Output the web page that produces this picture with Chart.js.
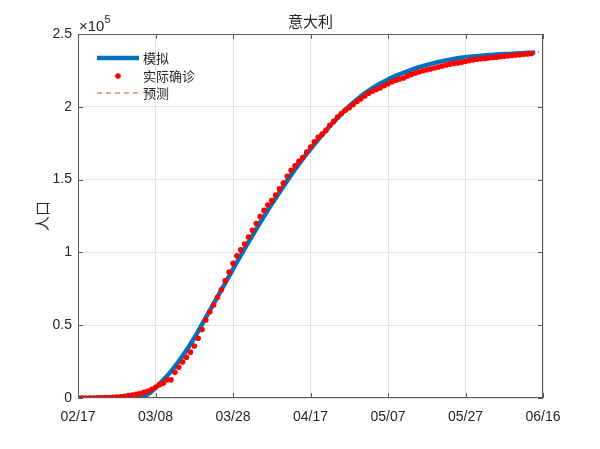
<!DOCTYPE html>
<html lang="zh">
<head>
<meta charset="UTF-8">
<title>意大利</title>
<script src="https://cdn.jsdelivr.net/npm/chart.js"></script>
<style>
    body { margin: 0; background: #ffffff; }
    canvas { display: block; }
</style>
</head>
<body>
<canvas id="chart" width="600" height="449"></canvas>
<script>
// x = giorni dal 02/17
const tickLabels = ['02/17', '03/08', '03/28', '04/17', '05/07', '05/27', '06/16'];

// casi confermati, uno al giorno da 02/17 a 06/13
const actualCases = [
    3, 3, 3, 3, 20, 62, 155, 229, 322, 453,
    655, 888, 1128, 1694, 2036, 2502, 3089, 3858, 4636, 5883,
    7375, 9172, 10149, 12462, 12462, 17660, 21157, 24747, 27980, 31506,
    35713, 41035, 47021, 53578, 59138, 63927, 69176, 74386, 80589, 86498,
    92472, 97689, 101739, 105792, 110574, 115242, 119827, 124632, 128948, 132547,
    135586, 139422, 143626, 147577, 152271, 156363, 159516, 162488, 165155, 168941,
    172434, 175925, 178972, 181228, 183957, 187327, 189973, 192994, 195351, 197675,
    199414, 201505, 203591, 205463, 207428, 209328, 210717, 211938, 213013, 214457,
    215858, 217185, 218268, 219070, 219814, 221216, 222104, 223096, 223885, 224760,
    225435, 225886, 226699, 227364, 228006, 228658, 229327, 229858, 230158, 230555,
    231139, 231732, 232248, 232664, 233019, 233197, 233515, 233836, 234013, 234531,
    234801, 234998, 235278, 235561, 235763, 236142, 236305, 236651
];

// curva simulata (ogni 2 giorni)
const modelDays = [
    0, 2, 4, 6, 8, 10, 12, 14, 16, 18, 20, 22, 24, 26, 28, 30, 32, 34, 36, 38,
    40, 42, 44, 46, 48, 50, 52, 54, 56, 58, 60, 62, 64, 66, 68, 70, 72, 74, 76, 78,
    80, 82, 84, 86, 88, 90, 92, 94, 96, 98, 100, 102, 104, 106, 108, 110, 112, 114, 116, 118
];
const modelValues = [
    0, 0, 0, 0, 0, 0, 0, 100, 600, 2500, 7000, 12300, 18300, 25200, 32800, 41200, 50500, 60000, 69500, 79000,
    88500, 98000, 107000, 116000, 124800, 133200, 141300, 149300, 157000, 164300, 171000, 177500, 183800, 189700, 195200, 200400, 205000, 209200, 212800, 216000,
    218800, 221200, 223400, 225400, 227200, 228800, 230200, 231400, 232400, 233300, 234000, 234600, 235100, 235500, 235900, 236200, 236500, 236800, 237050, 237300
];

// previsione
const predDays = [114, 116, 118, 119];
const predValues = [236800, 237100, 237400, 237550];

const seriesNames = ['模拟', '实际确诊', '预测'];

const BLUE = '#0072BD';
const RED = '#FF0000';
const ORANGE = '#D95319';
const TEXT = '#262626';
const CJK = '"Noto Sans CJK SC", "Noto Sans", sans-serif';
const LATIN = '"Liberation Sans", Arial, sans-serif';

function toPoints(xs, ys) {
    return xs.map((x, i) => ({ x: x, y: ys[i] }));
}

// cornice, tacche interne, titolo, etichette e legenda in stile MATLAB
const matlabDecor = {
    id: 'matlabDecor',
    afterDatasetsDraw(chart) {
        const ctx = chart.ctx;
        const a = chart.chartArea;
        const xs = chart.scales.x;
        const ys = chart.scales.y;

        ctx.save();
        ctx.strokeStyle = '#5a5a5a';
        ctx.lineWidth = 1;
        ctx.strokeRect(a.left + 0.5, a.top + 0.5, a.right - a.left - 1, a.bottom - a.top - 1);

        ctx.beginPath();
        xs.ticks.forEach(t => {
            const px = Math.round(xs.getPixelForValue(t.value)) + 0.5;
            ctx.moveTo(px, a.bottom); ctx.lineTo(px, a.bottom - 5);
            ctx.moveTo(px, a.top); ctx.lineTo(px, a.top + 5);
        });
        ys.ticks.forEach(t => {
            const py = Math.round(ys.getPixelForValue(t.value)) + 0.5;
            ctx.moveTo(a.left, py); ctx.lineTo(a.left + 5, py);
            ctx.moveTo(a.right, py); ctx.lineTo(a.right - 5, py);
        });
        ctx.stroke();

        // titolo
        ctx.fillStyle = TEXT;
        ctx.textAlign = 'center';
        ctx.textBaseline = 'middle';
        ctx.font = '15px ' + CJK;
        ctx.fillText('意大利', (a.left + a.right) / 2, 21);

        // esponente asse y
        ctx.textAlign = 'left';
        ctx.font = '15px ' + LATIN;
        ctx.fillText('\u00d710', a.left + 1, 27);
        const w = ctx.measureText('\u00d710').width;
        ctx.font = '11px ' + LATIN;
        ctx.fillText('5', a.left + 1 + w, 20);

        // etichetta asse y
        ctx.save();
        ctx.translate(42, 216);
        ctx.rotate(-Math.PI / 2);
        ctx.textAlign = 'center';
        ctx.font = '15px ' + CJK;
        ctx.fillText('人口', 0, 0);
        ctx.restore();

        // legenda
        ctx.lineCap = 'butt';
        ctx.strokeStyle = BLUE;
        ctx.lineWidth = 4.5;
        ctx.beginPath(); ctx.moveTo(97, 58); ctx.lineTo(139, 58); ctx.stroke();

        ctx.fillStyle = RED;
        ctx.beginPath(); ctx.arc(118, 76, 2.8, 0, Math.PI * 2); ctx.fill();

        ctx.strokeStyle = ORANGE;
        ctx.lineWidth = 1.2;
        ctx.setLineDash([5, 4]);
        ctx.beginPath(); ctx.moveTo(97, 93); ctx.lineTo(139, 93); ctx.stroke();
        ctx.setLineDash([]);

        ctx.fillStyle = TEXT;
        ctx.textAlign = 'left';
        ctx.textBaseline = 'middle';
        ctx.font = '13px ' + CJK;
        ctx.fillText(seriesNames[0], 143, 58);
        ctx.fillText(seriesNames[1], 143, 76);
        ctx.fillText(seriesNames[2], 143, 93);
        ctx.restore();
    }
};

const ctx = document.getElementById('chart').getContext('2d');
new Chart(ctx, {
    type: 'line',
    data: {
        datasets: [
            {
                label: seriesNames[0],
                data: toPoints(modelDays, modelValues),
                borderColor: BLUE,
                borderWidth: 4.5,
                pointRadius: 0,
                cubicInterpolationMode: 'monotone',
                order: 3
            },
            {
                label: seriesNames[1],
                data: actualCases.map((v, i) => ({ x: i, y: v })),
                showLine: false,
                pointRadius: 2.8,
                pointBorderWidth: 0,
                pointBackgroundColor: RED,
                borderColor: RED,
                order: 1
            },
            {
                label: seriesNames[2],
                data: toPoints(predDays, predValues),
                borderColor: ORANGE,
                borderWidth: 1.2,
                borderDash: [5, 4],
                pointRadius: 0,
                order: 2
            }
        ]
    },
    options: {
        responsive: false,
        animation: false,
        devicePixelRatio: 1,
        layout: { padding: { left: 0, right: 57, top: 34, bottom: 0 } },
        plugins: {
            legend: { display: false },
            title: { display: false },
            tooltip: { enabled: false }
        },
        scales: {
            x: {
                type: 'linear',
                min: 0,
                max: 120,
                afterFit(scale) { scale.height = 51; },
                afterBuildTicks(scale) {
                    scale.ticks = tickLabels.map((_, i) => ({ value: i * 20 }));
                },
                ticks: {
                    padding: 11,
                    maxRotation: 0,
                    color: TEXT,
                    font: { family: LATIN, size: 14 },
                    callback: (v) => tickLabels[Math.round(v / 20)]
                },
                grid: { color: '#e3e3e3', drawTicks: false },
                border: { display: false }
            },
            y: {
                min: 0,
                max: 250000,
                afterFit(scale) { scale.width = 78; },
                ticks: {
                    stepSize: 50000,
                    padding: 6,
                    color: TEXT,
                    font: { family: LATIN, size: 14 },
                    callback: (v) => String(v / 100000)
                },
                grid: { color: '#e3e3e3', drawTicks: false },
                border: { display: false }
            }
        }
    },
    plugins: [matlabDecor]
});
</script>
</body>
</html>
